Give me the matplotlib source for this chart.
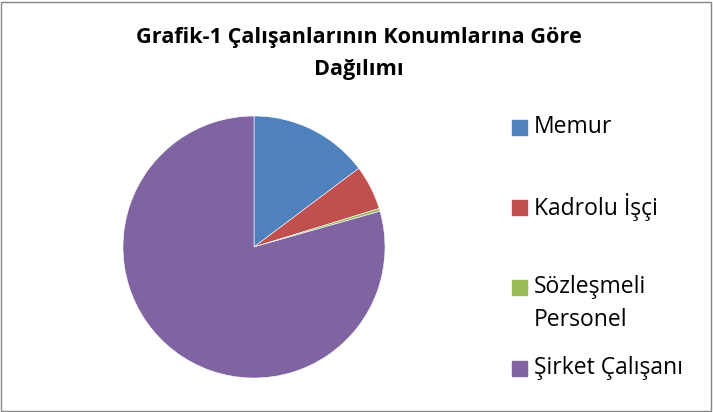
import matplotlib.pyplot as plt
from matplotlib.patches import Rectangle

categories = ["Memur", "Kadrolu İşçi", "Sözleşmeli\nPersonel", "Şirket Çalışanı"]
values = [14.75, 5.5, 0.35, 79.4]
colors = ["#4F81BD", "#C0504D", "#9BBB59", "#8064A2"]

W, H = 713, 412
plt.rcParams['font.family'] = ['Open Sans', 'DejaVu Sans']

fig = plt.figure(figsize=(W / 100, H / 100), dpi=100)

# pie axes: center (254, 247) px, radius 131 px
cx, cy, r = 254, 247, 131
ax = fig.add_axes([(cx - r) / W, (H - cy - r) / H, 2 * r / W, 2 * r / H])
ax.pie(values, colors=colors, startangle=90, counterclock=False, radius=1,
       wedgeprops=dict(edgecolor="white", linewidth=0.4))
ax.set_xlim(-1, 1)
ax.set_ylim(-1, 1)
ax.set_aspect("auto")
ax.axis("off")

fig.text(359 / W, 1 - 37 / H, "Grafik-1 Çalışanlarının Konumlarına Göre",
         ha="center", va="center", fontsize=15.6, fontweight="bold")
fig.text(359 / W, 1 - 69 / H, "Dağılımı",
         ha="center", va="center", fontsize=15.6, fontweight="bold")

# legend
legend_y = [127, 207, 287, 368]
for lab, col, y in zip(categories, colors, legend_y):
    fig.patches.append(Rectangle((512 / W, 1 - (y + 7.5) / H), 15 / W, 15 / H,
                                 transform=fig.transFigure, color=col))
    lines = lab.split("\n")
    for k, line in enumerate(lines):
        fig.text(534 / W, 1 - (y + 33 * k) / H, line, ha="left", va="center", fontsize=16.5)

fig.patches.append(Rectangle((1 / W, 1 / H), (W - 3) / W, (H - 3) / H, transform=fig.transFigure,
                             fill=False, edgecolor="#868686", linewidth=1))

fig.savefig("out.png", dpi=100)
